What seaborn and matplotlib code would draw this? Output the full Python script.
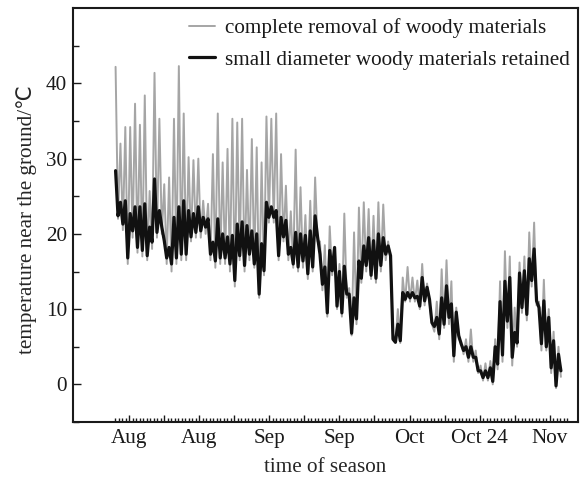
import numpy as np
import pandas as pd
import matplotlib
matplotlib.use("Agg")
import matplotlib.pyplot as plt
import seaborn as sns

# ---- data (daily highs / lows) ----
gray_high = [42.2, 32.0, 34.2, 34.2, 37.3, 34.5, 38.4, 25.7, 41.4, 35.3, 26.6, 27.5, 35.3, 42.3, 36.0, 30.2,
             29.8, 30.0, 24.4, 24.0, 30.6, 36.0, 29.5, 31.3, 35.3, 34.8, 35.3, 28.5, 32.6, 31.5, 29.5, 35.6,
             35.3, 36.0, 30.6, 26.4, 23.0, 31.2, 26.2, 22.5, 24.4, 27.5, 19.0, 18.5, 21.0, 18.2,
             16.0, 22.7, 12.8, 20.2, 23.5, 24.2, 23.3, 22.4, 24.2, 23.9, 19.0, 6.5, 10.0, 14.2, 15.6, 14.2,
             13.8, 16.0, 13.4, 8.0, 11.0, 15.3, 16.5, 13.7, 10.2, 5.7, 6.0, 7.3, 4.5, 2.5, 2.8, 3.1, 6.0,
             13.7, 17.7, 17.0, 10.2, 16.2, 17.0, 20.2, 21.5, 11.0, 13.9, 10.0, 7.0, 5.0]
gray_low = [22.0, 20.5, 16.0, 19.5, 17.5, 17.0, 16.5, 18.0, 19.5, 20.0, 16.0, 15.0, 16.0, 16.5, 16.5, 19.0,
            19.5, 19.5, 20.0, 16.5, 15.5, 16.0, 16.0, 15.0, 13.0, 16.5, 15.0, 16.5, 15.5, 11.5, 14.5, 21.5,
            21.5, 16.5, 19.0, 16.5, 15.5, 15.0, 15.5, 14.0, 15.0, 19.0, 12.5, 9.0, 14.5, 10.0,
            9.0, 11.5, 6.5, 8.0, 13.5, 15.0, 14.0, 13.5, 15.0, 16.5, 16.5, 5.5, 5.5, 11.0, 11.0, 11.0,
            10.0, 10.5, 11.0, 7.0, 6.0, 7.5, 8.0, 3.0, 6.0, 4.0, 3.0, 3.0, 1.5, 0.5, 0.5, 0.0, 2.0,
            3.0, 7.5, 2.5, 5.0, 9.5, 8.5, 13.0, 10.5, 4.5, 4.5, 1.5, -0.5, 1.0]
black_high = [28.4, 24.2, 24.4, 22.7, 23.6, 23.6, 24.0, 20.9, 27.3, 23.1, 19.1, 18.2, 22.2, 23.6, 24.4, 23.1,
              22.7, 23.6, 22.2, 22.0, 18.9, 22.0, 20.0, 19.6, 19.8, 21.3, 21.6, 21.1, 20.4, 20.0, 18.7, 24.2,
              23.6, 23.1, 22.2, 21.8, 18.2, 20.2, 20.0, 19.8, 20.4, 22.4, 17.3, 15.6, 17.8, 18.2,
              15.0, 15.7, 12.0, 11.5, 16.4, 18.4, 19.5, 19.1, 20.0, 19.5, 18.4, 6.0, 8.0, 12.2, 12.2, 12.2,
              11.7, 14.2, 12.9, 8.2, 8.9, 11.5, 13.1, 10.7, 9.6, 5.4, 5.0, 5.0, 3.6, 1.8, 1.8, 2.2, 5.0,
              11.0, 13.7, 14.2, 6.9, 14.8, 15.1, 16.7, 18.0, 10.2, 11.1, 8.9, 5.8, 4.0]
black_low = [22.4, 21.3, 16.8, 20.4, 18.2, 17.8, 17.1, 18.9, 20.2, 20.9, 16.8, 16.0, 16.8, 17.3, 17.3, 19.6,
             20.2, 20.4, 20.9, 17.3, 16.4, 16.8, 16.8, 16.0, 13.8, 17.1, 15.8, 17.3, 16.0, 12.0, 15.1, 22.2,
             22.2, 17.1, 19.6, 17.3, 16.0, 15.6, 16.4, 14.7, 15.6, 19.6, 13.3, 9.5, 15.1, 10.4,
             9.5, 12.0, 6.8, 8.7, 14.1, 15.8, 14.5, 14.1, 15.8, 17.3, 17.1, 5.6, 5.8, 11.3, 11.5, 11.5,
             10.4, 11.1, 11.3, 7.7, 6.7, 8.0, 8.9, 3.8, 6.5, 4.5, 3.6, 3.6, 1.8, 0.9, 0.9, 0.4, 2.7,
             3.9, 8.4, 3.6, 5.5, 10.2, 9.3, 13.8, 11.1, 5.4, 5.0, 2.2, -0.2, 1.8]

tick_labels = ["Aug", "Aug", "Sep", "Sep", "Oct", "Oct 24", "Nov"]
series_names = ["complete removal of woody materials",
                "small diameter woody materials retained"]

days = np.arange(len(gray_high), dtype=float)


def build(high, low, name):
    t = np.column_stack([days, days + 0.5]).ravel()
    v = np.column_stack([high, low]).ravel()
    return pd.DataFrame({"t": t, "temp": v, "series": name})


df_gray = build(gray_high, gray_low, series_names[0])
df_black = build(black_high, black_low, series_names[1])

sns.set_theme(style="ticks", rc={"axes.spines.top": True, "axes.spines.right": True})
plt.rcParams["font.family"] = ["Liberation Serif", "DejaVu Sans"]
plt.rcParams["text.color"] = "#1a1a1a"

FS = 15.2
fig = plt.figure(figsize=(5.82, 4.79), dpi=100)
ax = fig.add_axes([0.125, 0.119, 0.868, 0.864])

sns.lineplot(data=df_gray, x="t", y="temp", color="#a5a5a5", lw=1.4,
             estimator=None, sort=False, ax=ax, label=series_names[0])
sns.lineplot(data=df_black, x="t", y="temp", color="#111111", lw=2.3,
             estimator=None, sort=False, ax=ax, label=series_names[1])

ax.set_xlim(-8.8, 95.0)
ax.set_ylim(-5, 50)

major = 2.8 + 7.2 * np.arange(13)
ax.set_xticks(major)
labs = []
for i in range(13):
    labs.append(tick_labels[i // 2] if i % 2 == 0 else "")
ax.set_xticklabels(labs)
ax.set_xticks(np.arange(2.8 - 0.72 * 4, 93.0, 0.72), minor=True)
ax.set_yticks([0, 10, 20, 30, 40])
ax.set_yticks([-5, 5, 15, 25, 35, 45], minor=True)

ax.tick_params(axis="both", which="both", direction="in", labelsize=FS,
               colors="#1a1a1a", width=1.0, top=False, right=False)
ax.tick_params(axis="x", which="major", length=5, pad=5)
ax.tick_params(axis="x", which="minor", length=3)
ax.tick_params(axis="y", which="major", length=6, pad=4)
ax.tick_params(axis="y", which="minor", length=4)
for name in ["left", "right", "top", "bottom"]:
    sp = ax.spines[name]
    sp.set_visible(True)
    sp.set_linewidth(1.5)
    sp.set_color("#1a1a1a")
    sp.set_zorder(5)

ax.set_xlabel("time of season", fontsize=FS, labelpad=7)
ax.set_ylabel("temperature near the ground/℃", fontsize=FS, labelpad=5)
ax.yaxis.set_label_coords(-0.071, 0.49)

leg = ax.legend(loc="upper right", bbox_to_anchor=(1.009, 1.006), frameon=False,
                fontsize=FS, handlelength=1.25, handletextpad=0.45,
                labelspacing=0.55, borderaxespad=0.2)

fig.savefig("out.png", dpi=100)
